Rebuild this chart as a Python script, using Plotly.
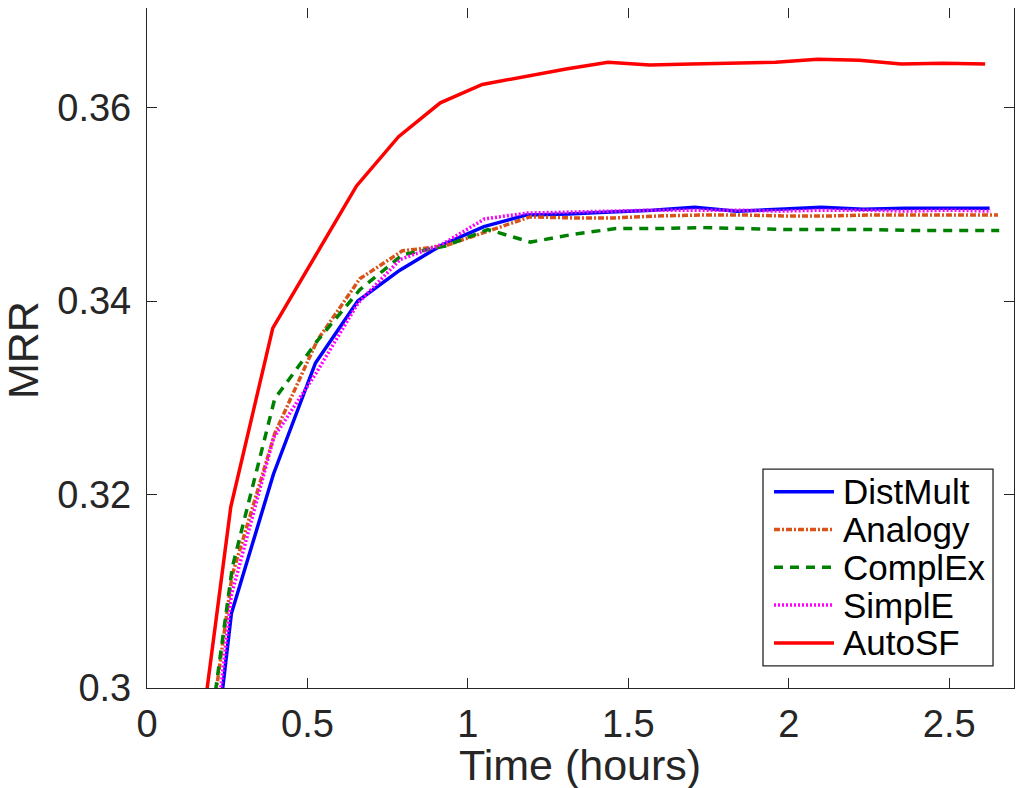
import plotly.graph_objects as go

# time (hours) and MRR per model
t_distmult = [0.131, 0.263, 0.394, 0.525, 0.657, 0.788, 0.919, 1.050, 1.182, 1.313,
              1.444, 1.576, 1.707, 1.838, 1.970, 2.101, 2.232, 2.363, 2.495, 2.626]
mrr_distmult = [0.2700, 0.3077, 0.3221, 0.3336, 0.3400, 0.3432, 0.3458, 0.3477, 0.3489, 0.3490,
                0.3492, 0.3494, 0.3497, 0.3493, 0.3495, 0.3497, 0.3495, 0.3496, 0.3496, 0.3496]

t_analogy = [0.133, 0.265, 0.398, 0.530, 0.663, 0.796, 0.928, 1.061, 1.193, 1.326,
             1.459, 1.591, 1.724, 1.856, 1.989, 2.122, 2.254, 2.387, 2.519, 2.652]
mrr_analogy = [0.2798, 0.3116, 0.3263, 0.3359, 0.3423, 0.3452, 0.3457, 0.3472, 0.3487, 0.3486,
               0.3486, 0.3488, 0.3489, 0.3489, 0.3488, 0.3488, 0.3489, 0.3489, 0.3489, 0.3489]

t_complex = [0.133, 0.266, 0.398, 0.531, 0.664, 0.797, 0.930, 1.062, 1.195, 1.328,
             1.461, 1.594, 1.726, 1.859, 1.992, 2.125, 2.258, 2.390, 2.523, 2.656]
mrr_complex = [0.2800, 0.3125, 0.3299, 0.3359, 0.3412, 0.3448, 0.3457, 0.3474, 0.3461, 0.3469,
               0.3475, 0.3475, 0.3476, 0.3475, 0.3474, 0.3474, 0.3474, 0.3473, 0.3473, 0.3473]

t_simple = [0.132, 0.263, 0.395, 0.526, 0.658, 0.789, 0.921, 1.052, 1.184, 1.315,
            1.447, 1.578, 1.710, 1.841, 1.973, 2.104, 2.236, 2.367, 2.499, 2.630]
mrr_simple = [0.2713, 0.3096, 0.3259, 0.3325, 0.3398, 0.3443, 0.3459, 0.3485, 0.3491, 0.3492,
              0.3493, 0.3494, 0.3494, 0.3494, 0.3493, 0.3494, 0.3494, 0.3493, 0.3494, 0.3493]

t_autosf = [0.131, 0.261, 0.392, 0.522, 0.653, 0.784, 0.914, 1.045, 1.175, 1.306,
            1.437, 1.567, 1.698, 1.828, 1.959, 2.090, 2.220, 2.351, 2.481, 2.612]
mrr_autosf = [0.2856, 0.3187, 0.3372, 0.3446, 0.3519, 0.3570, 0.3605, 0.3624, 0.3632, 0.3640,
              0.3647, 0.3644, 0.3645, 0.3646, 0.3647, 0.3650, 0.3649, 0.3645, 0.3646, 0.3645]

x_ticks = [0, 0.5, 1, 1.5, 2, 2.5]
x_tick_labels = ['0', '0.5', '1', '1.5', '2', '2.5']
y_ticks = [0.30, 0.32, 0.34, 0.36]
y_tick_labels = ['0.3', '0.32', '0.34', '0.36']

FONT = 'Liberation Sans, Arial, sans-serif'
AXIS_COLOR = '#262626'
LINE_WIDTH = 3.5

series = [
    ('DistMult', t_distmult, mrr_distmult, '#0000FF', 'solid'),
    ('Analogy', t_analogy, mrr_analogy, '#D95319', '6px,2px,2px,2px'),
    ('ComplEx', t_complex, mrr_complex, '#008000', '9px,7px'),
    ('SimplE', t_simple, mrr_simple, '#FF00FF', '2px,2px'),
    ('AutoSF', t_autosf, mrr_autosf, '#FF0000', 'solid'),
]

fig = go.Figure()
for name, t, mrr, color, dash in series:
    fig.add_trace(go.Scatter(
        x=t, y=mrr, name=name, mode='lines', showlegend=False,
        line=dict(color=color, width=LINE_WIDTH, dash=dash),
    ))

# MATLAB-style legend box drawn by hand (tighter rows than plotly's legend)
leg_x0, leg_x1, leg_y0, leg_y1 = 0.7105, 0.9758, 0.0324, 0.322
row_top, row_step = 0.2887, 0.0556
fig.add_shape(type='rect', xref='paper', yref='paper',
              x0=leg_x0, x1=leg_x1, y0=leg_y0, y1=leg_y1,
              line=dict(color=AXIS_COLOR, width=1.3), fillcolor='white', layer='above')
for i, (name, _, _, color, dash) in enumerate(series):
    yy = row_top - i * row_step
    fig.add_shape(type='line', xref='paper', yref='paper',
                  x0=0.7232, x1=0.7924, y0=yy, y1=yy,
                  line=dict(color=color, width=LINE_WIDTH, dash=dash), layer='above')
    fig.add_annotation(text=name, xref='paper', yref='paper', x=0.8005, y=yy,
                       xanchor='left', yanchor='middle', showarrow=False,
                       font=dict(family=FONT, size=35, color='black'))

# axis titles as annotations so they sit where the reference puts them
fig.add_annotation(text='Time (hours)', xref='paper', yref='paper', x=0.499, y=-0.113,
                   xanchor='center', yanchor='middle', showarrow=False,
                   font=dict(family=FONT, size=43, color=AXIS_COLOR))
fig.add_annotation(text='MRR', xref='paper', yref='paper', x=-0.143, y=0.497,
                   xanchor='center', yanchor='middle', showarrow=False, textangle=-90,
                   font=dict(family=FONT, size=43, color=AXIS_COLOR))

axis_common = dict(
    showline=True, linecolor=AXIS_COLOR, linewidth=1.3, mirror='ticks',
    ticks='inside', ticklen=10, tickwidth=1.3, tickcolor=AXIS_COLOR,
    showgrid=False, zeroline=False, automargin=False,
    tickfont=dict(family=FONT, size=38, color=AXIS_COLOR),
)

fig.update_xaxes(
    range=[0, 2.702], tickvals=x_ticks, ticktext=x_tick_labels, ticklabelstandoff=2,
    **axis_common,
)
fig.update_yaxes(
    range=[0.3, 0.3703], tickvals=y_ticks, ticktext=y_tick_labels, ticklabelstandoff=7,
    **axis_common,
)

# page body adds an 8px offset, so margins are trimmed to land the axes box at the reference spot
fig.update_layout(
    width=1025, height=788,
    margin=dict(l=139, r=19, t=0, b=108),
    paper_bgcolor='white', plot_bgcolor='white',
    font=dict(family=FONT, color='black'),
    showlegend=False,
)

fig.write_html('out.html')
